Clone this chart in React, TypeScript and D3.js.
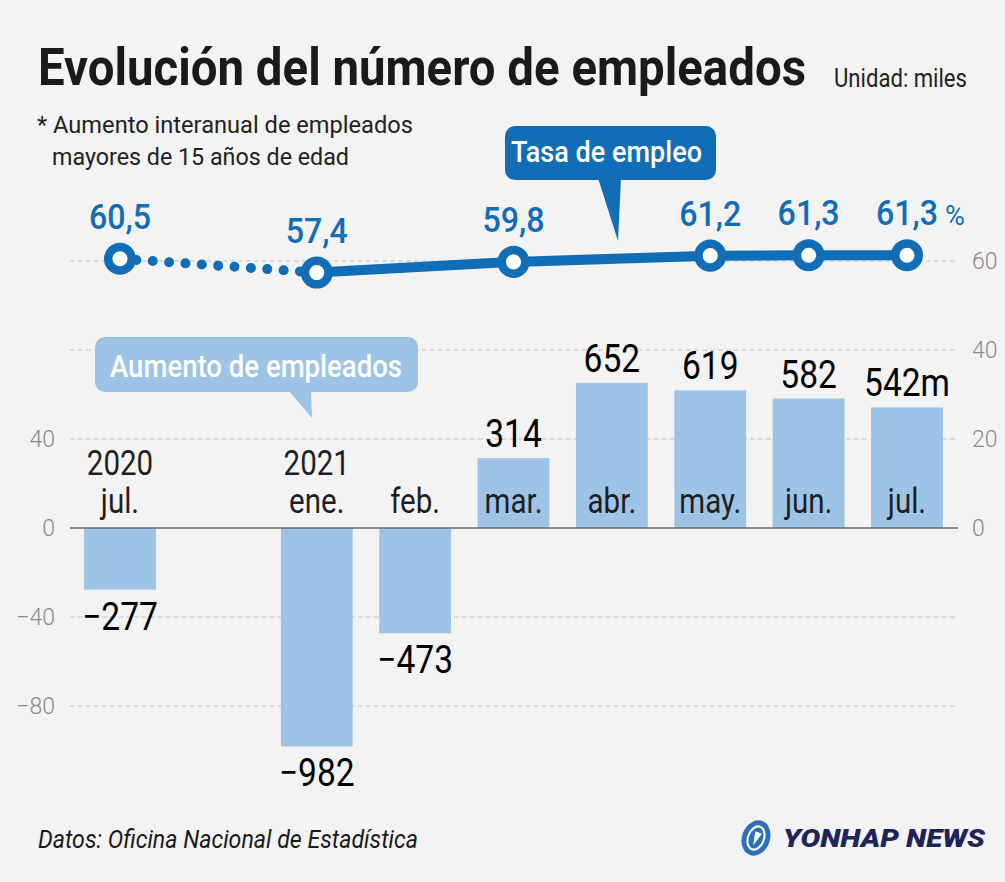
import { useRef, useEffect } from 'react'
import * as d3 from 'd3'

// periods on the x axis (one empty slot between jul. 2020 and ene. 2021)
const periods = ['2020-07', 'gap', '2021-01', '2021-02', '2021-03', '2021-04', '2021-05', '2021-06', '2021-07']
const yearLabels = ['2020', '', '2021', '', '', '', '', '', '']
const monthLabels = ['jul.', '', 'ene.', 'feb.', 'mar.', 'abr.', 'may.', 'jun.', 'jul.']
// year-on-year change in employed people, thousands
const employedChange: (number | null)[] = [-277, null, -982, -473, 314, 652, 619, 582, 542]
// employment rate, %
const employmentRate: (number | null)[] = [60.5, null, 57.4, null, 59.8, null, 61.2, 61.3, 61.3]
const leftTicks = [40, 0, -40, -80]
const rightTicks = [60, 40, 20, 0]

const W = 1005
const H = 882
const BLUE = '#106db6'
const BAR = '#9dc3e6'
const BG = '#f3f3f3'
const FONT = 'Roboto, "Noto Sans", sans-serif'

export default function App() {
  const svgRef = useRef<SVGSVGElement>(null)

  useEffect(() => {
    if (!svgRef.current) return
    const svg = d3.select(svgRef.current)
    svg.selectAll('*').remove()

    svg.append('rect').attr('width', W).attr('height', H).attr('fill', BG)

    const x = d3.scalePoint<string>().domain(periods).range([120, 907])
    const bw = x.step() * 0.73
    // bars drawn in units of 10 000 (left axis), rate on right axis
    const yBar = d3.scaleLinear().domain([-80, 40]).range([706, 439])
    const yRate = d3.scaleLinear().domain([0, 60]).range([528, 261])
    const y0 = yBar(0)

    const condensed = (sel: any, sx: number) =>
      sel.attr('transform', (d: any, i: number, n: any) => {
        const el = n[i] as SVGTextElement
        const tx = +(el.getAttribute('data-x') || 0)
        const ty = +(el.getAttribute('data-y') || 0)
        return `translate(${tx},${ty}) scale(${sx},1)`
      })

    // Title block
    svg.append('text')
      .attr('x', 38).attr('y', 85)
      .attr('font-family', FONT).attr('font-weight', 700).attr('font-size', 52)
      .attr('fill', '#1a1a1a')
      .attr('textLength', 768).attr('lengthAdjust', 'spacingAndGlyphs')
      .text('Evolución del número de empleados')
    svg.append('text')
      .attr('x', 834).attr('y', 87)
      .attr('font-family', FONT).attr('font-size', 26).attr('fill', '#222')
      .attr('textLength', 133).attr('lengthAdjust', 'spacingAndGlyphs')
      .text('Unidad: miles')
    svg.append('text')
      .attr('x', 37).attr('y', 133)
      .attr('font-family', FONT).attr('font-size', 23).attr('fill', '#222')
      .attr('textLength', 376).attr('lengthAdjust', 'spacingAndGlyphs')
      .text('* Aumento interanual de empleados')
    svg.append('text')
      .attr('x', 52).attr('y', 165)
      .attr('font-family', FONT).attr('font-size', 23).attr('fill', '#222')
      .attr('textLength', 297).attr('lengthAdjust', 'spacingAndGlyphs')
      .text('mayores de 15 años de edad')

    // Grid lines
    const grid = svg.append('g')
    grid.selectAll('.gr')
      .data(rightTicks.filter((t) => t > 0))
      .join('line')
      .attr('x1', 70).attr('x2', 955)
      .attr('y1', (d) => yRate(d)).attr('y2', (d) => yRate(d))
      .attr('stroke', '#c4c4c4').attr('stroke-dasharray', '5,3')
    grid.selectAll('.gl')
      .data(leftTicks.filter((t) => t < 0))
      .join('line')
      .attr('x1', 70).attr('x2', 955)
      .attr('y1', (d) => yBar(d)).attr('y2', (d) => yBar(d))
      .attr('stroke', '#c4c4c4').attr('stroke-dasharray', '5,3')

    // Axes
    const styleAxis = (g: any) => {
      g.select('.domain').remove()
      g.selectAll('text')
        .attr('font-family', FONT).attr('font-weight', 300)
        .attr('font-size', 23).attr('fill', '#8a8a8a')
    }
    svg.append('g')
      .attr('transform', 'translate(70,0)')
      .call(d3.axisLeft(yBar).tickValues(leftTicks).tickSize(0).tickPadding(15))
      .call(styleAxis)
    svg.append('g')
      .attr('transform', 'translate(955,0)')
      .call(d3.axisRight(yRate).tickValues(rightTicks).tickSize(0).tickPadding(17))
      .call(styleAxis)

    // Bars
    const barData = periods
      .map((p, i) => ({ p, v: employedChange[i], i }))
      .filter((d) => d.v !== null) as { p: string; v: number; i: number }[]

    svg.selectAll('.bar')
      .data(barData)
      .join('rect')
      .attr('x', (d) => (x(d.p) ?? 0) - bw / 2)
      .attr('y', (d) => yBar(Math.max(0, d.v / 10)))
      .attr('width', bw)
      .attr('height', (d) => Math.abs(yBar(d.v / 10) - y0))
      .attr('fill', BAR)

    // Zero line
    svg.append('line')
      .attr('x1', 70).attr('x2', 958)
      .attr('y1', y0).attr('y2', y0)
      .attr('stroke', '#6a6a6a').attr('stroke-width', 1.5)

    // Category labels
    svg.selectAll('.month')
      .data(periods.map((p, i) => ({ p, m: monthLabels[i] })).filter((d) => d.m))
      .join('text')
      .attr('data-x', (d) => x(d.p) ?? 0)
      .attr('data-y', y0 - 15)
      .attr('text-anchor', 'middle')
      .attr('font-family', FONT).attr('font-size', 36).attr('fill', '#1f1f1f')
      .text((d) => d.m)
      .call(condensed, 0.82)
    svg.selectAll('.year')
      .data(periods.map((p, i) => ({ p, yl: yearLabels[i] })).filter((d) => d.yl))
      .join('text')
      .attr('data-x', (d) => x(d.p) ?? 0)
      .attr('data-y', y0 - 53)
      .attr('text-anchor', 'middle')
      .attr('font-family', FONT).attr('font-size', 36).attr('fill', '#1f1f1f')
      .text((d) => d.yl)
      .call(condensed, 0.82)

    // Bar value labels
    const lastBar = barData[barData.length - 1]
    svg.selectAll('.val')
      .data(barData)
      .join('text')
      .attr('data-x', (d) => x(d.p) ?? 0)
      .attr('data-y', (d) => (d.v < 0 ? yBar(d.v / 10) + 40 : yBar(d.v / 10) - 11))
      .attr('text-anchor', 'middle')
      .attr('font-family', FONT).attr('font-weight', 400).attr('font-size', 39).attr('fill', '#000')
      .text((d) => (d.v < 0 ? '−' + Math.abs(d.v) : String(d.v)) + (d === lastBar ? 'm' : ''))
      .call(condensed, 0.86)

    // Callout: Aumento de empleados
    svg.append('rect')
      .attr('x', 95).attr('y', 337).attr('width', 323).attr('height', 55).attr('rx', 10)
      .attr('fill', BAR)
    svg.append('path').attr('d', 'M288,390 L311,390 L312,418 Z').attr('fill', BAR)
    svg.append('text')
      .attr('x', 110).attr('y', 377)
      .attr('font-family', FONT).attr('font-weight', 500).attr('font-size', 31).attr('fill', '#fff')
      .attr('textLength', 292).attr('lengthAdjust', 'spacingAndGlyphs')
      .text('Aumento de empleados')

    // Callout: Tasa de empleo
    svg.append('rect')
      .attr('x', 505).attr('y', 126).attr('width', 211).attr('height', 54).attr('rx', 10)
      .attr('fill', BLUE)
    svg.append('path').attr('d', 'M598,178 L621,178 L618,241 Z').attr('fill', BLUE)
    svg.append('text')
      .attr('x', 511).attr('y', 162)
      .attr('font-family', FONT).attr('font-weight', 500).attr('font-size', 30).attr('fill', '#fff')
      .attr('textLength', 191).attr('lengthAdjust', 'spacingAndGlyphs')
      .text('Tasa de empleo')

    // Employment rate line
    const ratePts = periods
      .map((p, i) => ({ p, v: employmentRate[i] }))
      .filter((d) => d.v !== null) as { p: string; v: number }[]
    const line = d3.line<{ p: string; v: number }>()
      .x((d) => x(d.p) ?? 0)
      .y((d) => yRate(d.v))

    svg.append('path')
      .attr('d', line(ratePts.slice(0, 2)))
      .attr('fill', 'none').attr('stroke', BLUE).attr('stroke-width', 10)
      .attr('stroke-linecap', 'round').attr('stroke-dasharray', '0 16.4')
    svg.append('path')
      .attr('d', line(ratePts.slice(1)))
      .attr('fill', 'none').attr('stroke', BLUE).attr('stroke-width', 10)

    svg.selectAll('.dot')
      .data(ratePts)
      .join('circle')
      .attr('cx', (d) => x(d.p) ?? 0)
      .attr('cy', (d) => yRate(d.v))
      .attr('r', 11.8)
      .attr('fill', '#fff').attr('stroke', BLUE).attr('stroke-width', 8.5)

    const fmt = d3.format('.1f')
    svg.selectAll('.rl')
      .data(ratePts)
      .join('text')
      .attr('data-x', (d) => x(d.p) ?? 0)
      .attr('data-y', (d) => yRate(d.v) - 30)
      .attr('text-anchor', 'middle')
      .attr('font-family', FONT).attr('font-weight', 500).attr('font-size', 35).attr('fill', BLUE)
      .text((d) => fmt(d.v).replace('.', ','))
      .call(condensed, 0.92)

    const lastRate = ratePts[ratePts.length - 1]
    svg.append('text')
      .attr('x', (x(lastRate.p) ?? 0) + 38)
      .attr('y', yRate(lastRate.v) - 30)
      .attr('font-family', FONT).attr('font-size', 27).attr('fill', BLUE)
      .text('%')

    // Footer
    svg.append('text')
      .attr('x', 38).attr('y', 848)
      .attr('font-family', FONT).attr('font-style', 'italic').attr('font-size', 25).attr('fill', '#1a1a1a')
      .attr('textLength', 380).attr('lengthAdjust', 'spacingAndGlyphs')
      .text('Datos: Oficina Nacional de Estadística')

    // Logo
    const logo = svg.append('g').attr('transform', 'translate(756,838) rotate(20)')
    logo.append('ellipse').attr('rx', 14).attr('ry', 18).attr('fill', '#2f6fb8')
    logo.append('ellipse').attr('rx', 8).attr('ry', 12).attr('fill', 'none')
      .attr('stroke', '#fff').attr('stroke-width', 2)
    logo.append('path').attr('d', 'M-3,-6 L4,-6 L0,8 Z').attr('fill', '#fff')
    svg.append('text')
      .attr('x', 783).attr('y', 847)
      .attr('font-family', FONT).attr('font-weight', 900).attr('font-style', 'italic')
      .attr('font-size', 25).attr('fill', '#1d2459')
      .attr('textLength', 202).attr('lengthAdjust', 'spacingAndGlyphs')
      .text('YONHAP NEWS')
  }, [])

  return (
    <svg
      ref={svgRef}
      width={W}
      height={H}
      style={{ position: 'absolute', left: 0, top: 0, display: 'block' }}
    />
  )
}
